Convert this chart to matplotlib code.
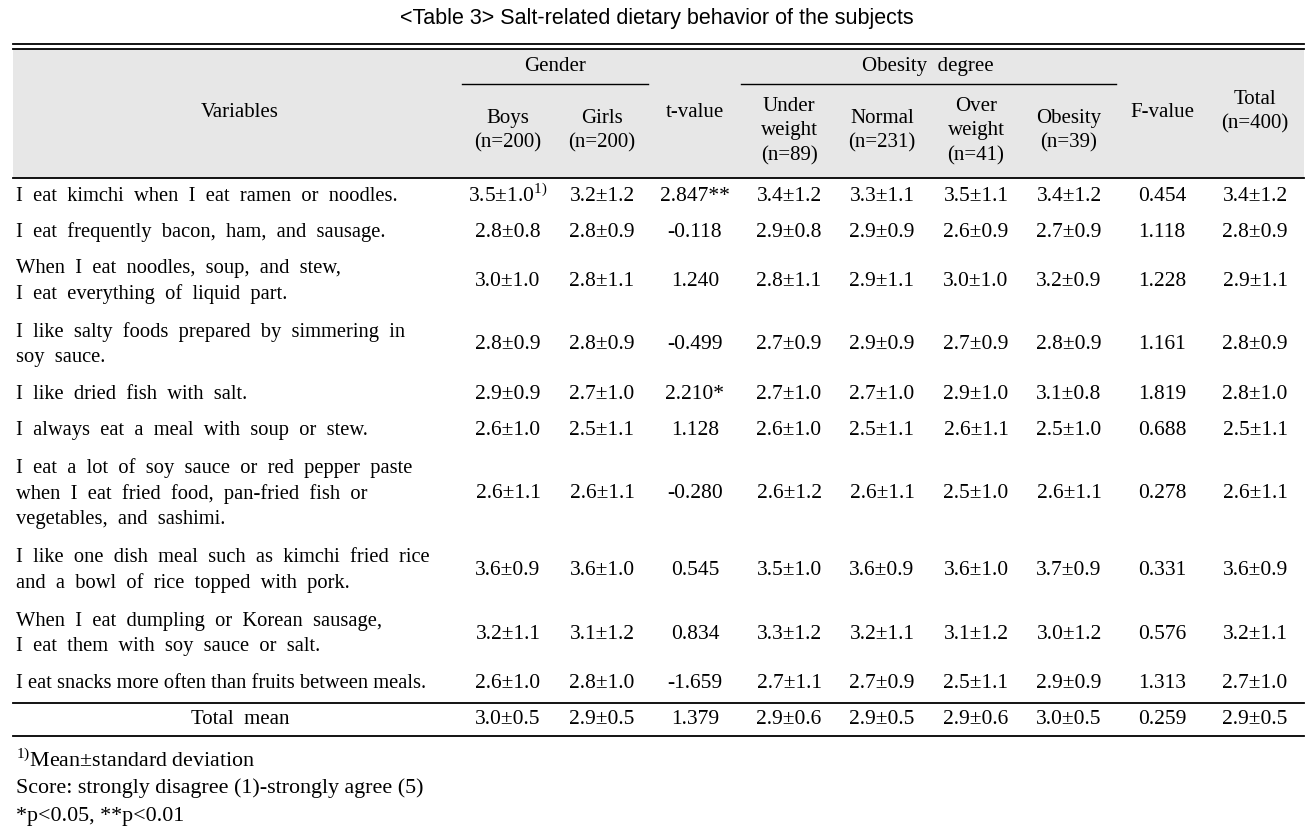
import matplotlib.pyplot as plt

plt.rcParams['mathtext.fontset'] = 'custom'
plt.rcParams['mathtext.rm'] = 'Liberation Serif'

# table content
title = "<Table 3> Salt-related dietary behavior of the subjects"

variables = [
    "I eat kimchi when I eat ramen or noodles.",
    "I eat frequently bacon, ham, and sausage.",
    "When I eat noodles, soup, and stew,\nI eat everything of liquid part.",
    "I like salty foods prepared by simmering in\nsoy sauce.",
    "I like dried fish with salt.",
    "I always eat a meal with soup or stew.",
    "I eat a lot of soy sauce or red pepper paste\nwhen I eat fried food, pan-fried fish or\nvegetables, and sashimi.",
    "I like one dish meal such as kimchi fried rice\nand a bowl of rice topped with pork.",
    "When I eat dumpling or Korean sausage,\nI eat them with soy sauce or salt.",
    "I eat snacks more often than fruits between meals.",
]

boys = ["3.5±1.0", "2.8±0.8", "3.0±1.0", "2.8±0.9", "2.9±0.9",
        "2.6±1.0", "2.6±1.1", "3.6±0.9", "3.2±1.1", "2.6±1.0"]
girls = ["3.2±1.2", "2.8±0.9", "2.8±1.1", "2.8±0.9", "2.7±1.0",
         "2.5±1.1", "2.6±1.1", "3.6±1.0", "3.1±1.2", "2.8±1.0"]
t_values = ["2.847**", "-0.118", "1.240", "-0.499", "2.210*",
            "1.128", "-0.280", "0.545", "0.834", "-1.659"]
under = ["3.4±1.2", "2.9±0.8", "2.8±1.1", "2.7±0.9", "2.7±1.0",
         "2.6±1.0", "2.6±1.2", "3.5±1.0", "3.3±1.2", "2.7±1.1"]
normal = ["3.3±1.1", "2.9±0.9", "2.9±1.1", "2.9±0.9", "2.7±1.0",
          "2.5±1.1", "2.6±1.1", "3.6±0.9", "3.2±1.1", "2.7±0.9"]
over = ["3.5±1.1", "2.6±0.9", "3.0±1.0", "2.7±0.9", "2.9±1.0",
        "2.6±1.1", "2.5±1.0", "3.6±1.0", "3.1±1.2", "2.5±1.1"]
obesity = ["3.4±1.2", "2.7±0.9", "3.2±0.9", "2.8±0.9", "3.1±0.8",
           "2.5±1.0", "2.6±1.1", "3.7±0.9", "3.0±1.2", "2.9±0.9"]
f_values = ["0.454", "1.118", "1.228", "1.161", "1.819",
            "0.688", "0.278", "0.331", "0.576", "1.313"]
total = ["3.4±1.2", "2.8±0.9", "2.9±1.1", "2.8±0.9", "2.8±1.0",
         "2.5±1.1", "2.6±1.1", "3.6±0.9", "3.2±1.1", "2.7±1.0"]

total_mean = ["3.0±0.5", "2.9±0.5", "1.379", "2.9±0.6", "2.9±0.5",
              "2.9±0.6", "3.0±0.5", "0.259", "2.9±0.5"]

col_heads = ["Boys\n(n=200)", "Girls\n(n=200)", "t-value", "Under\nweight\n(n=89)",
             "Normal\n(n=231)", "Over\nweight\n(n=41)", "Obesity\n(n=39)",
             "F-value", "Total\n(n=400)"]
footnotes = ["$^{1)}$Mean±standard deviation",
             "Score: strongly disagree (1)-strongly agree (5)",
             "*p<0.05, **p<0.01"]

# layout
W, H = 1314, 833
col_x = [508, 602, 695, 789, 882, 976, 1069, 1162, 1255]
head_y = [131, 131, 112, 131, 131, 131, 131, 112, 112]
x0, x1 = 13, 1304
serif = ["Liberation Serif", "DejaVu Serif"]
fs = 15
fs_var = 14.8
fs_num = 15.5
lh = 27.3
wide = "\u2002"

fig = plt.figure(figsize=(W / 100, H / 100), dpi=100)
ax = fig.add_axes([0, 0, 1, 1])
ax.set_xlim(0, W)
ax.set_ylim(H, 0)
ax.axis("off")

ax.text(W / 2, 18, title, ha="center", va="center", fontsize=15.5,
        family="Liberation Sans")

# header
ax.fill_between([x0, x1], 49, 178, color="#e7e7e7", lw=0)
ax.plot([x0, x1], [44, 44], color="black", lw=1.3)
ax.plot([x0, x1], [48.5, 48.5], color="black", lw=1.3)
ax.plot([x0, x1], [178, 178], color="black", lw=1.3)
ax.plot([462, 648], [84, 84], color="black", lw=1.0)
ax.plot([741, 1116], [84, 84], color="black", lw=1.0)
ax.text(555, 66, "Gender", ha="center", va="center", fontsize=fs, family=serif)
ax.text(928, 66, "Obesity" + wide + "degree", ha="center", va="center",
        fontsize=fs, family=serif)
ax.text(240, 112, "Variables", ha="center", va="center", fontsize=fs, family=serif)
for x, y, h in zip(col_x, head_y, col_heads):
    ax.text(x, y, h, ha="center", va="center", fontsize=fs, family=serif,
            linespacing=1.4)

# body
columns = [boys, girls, t_values, under, normal, over, obesity, f_values, total]
top = 178
for i, var in enumerate(variables):
    n = var.count("\n") + 1
    h = 36 + lh * (n - 1)
    yc = top + h / 2
    label = var if i == len(variables) - 1 else var.replace(" ", wide)
    ax.text(16, yc, label, ha="left", va="center", fontsize=fs_var, family=serif,
            linespacing=1.42)
    for x, col in zip(col_x, columns):
        s = col[i]
        if i == 0 and col is boys:
            s = s + "$^{1)}$"
        ax.text(x, yc, s, ha="center", va="center", fontsize=fs_num, family=serif)
    top += h

ax.plot([x0, x1], [703, 703], color="black", lw=1.3)
ax.plot([x0, x1], [736, 736], color="black", lw=1.3)
ax.text(240, 719, "Total" + wide + "mean", ha="center", va="center",
        fontsize=fs, family=serif)
for x, s in zip(col_x, total_mean):
    ax.text(x, 719, s, ha="center", va="center", fontsize=fs_num, family=serif)

for k, note in enumerate(footnotes):
    ax.text(16, 761 + 27.5 * k, note, ha="left", va="center", fontsize=15.8,
            family=serif)

fig.savefig("out.png", dpi=100)
